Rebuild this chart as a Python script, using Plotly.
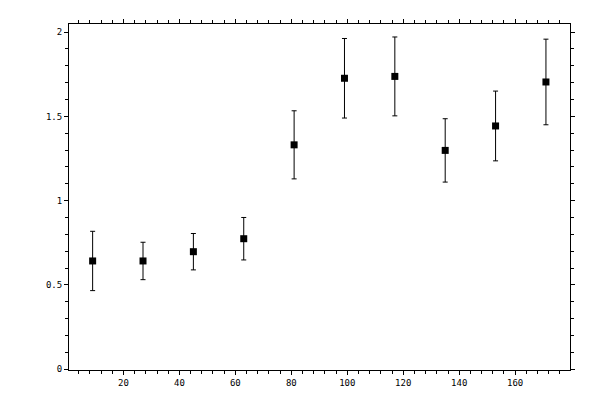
import plotly.graph_objects as go

# bin centres and measured values with symmetric errors
x_vals = [9, 27, 45, 63, 81, 99, 117, 135, 153, 171]
y_vals = [0.642, 0.642, 0.697, 0.774, 1.331, 1.726, 1.737, 1.298, 1.443, 1.704]
y_err = [0.176, 0.111, 0.108, 0.126, 0.202, 0.236, 0.234, 0.188, 0.207, 0.254]

x_range = [0.55, 179.6]
y_range = [-0.005, 2.048]
x_ticks = [20, 40, 60, 80, 100, 120, 140, 160]
y_ticks = [0, 0.5, 1, 1.5, 2]
y_tick_labels = ["0", "0.5", "1", "1.5", "2"]

tick_font = dict(family="DejaVu Sans Mono", size=9, color="black")

fig = go.Figure()

fig.add_trace(go.Scatter(
    x=x_vals, y=y_vals,
    mode="markers",
    marker=dict(symbol="square", size=7, color="black", line=dict(width=0)),
    error_y=dict(type="data", array=y_err, visible=True,
                 color="black", thickness=1, width=2.5),
    showlegend=False,
))

# main axes: outer half of the major ticks, minor ticks, labels
common = dict(
    showline=True, linecolor="black", linewidth=1,
    mirror="ticks", ticks="outside", ticklen=4, tickwidth=1, tickcolor="black",
    showgrid=False, zeroline=False, tickfont=tick_font,
)
fig.update_xaxes(
    range=x_range, tickmode="array", tickvals=x_ticks, **common,
    minor=dict(ticks="outside", ticklen=3, tickwidth=1, tickcolor="black",
               dtick=4, tick0=0, showgrid=False),
)
fig.update_yaxes(
    range=y_range, tickmode="array", tickvals=y_ticks, ticktext=y_tick_labels,
    **common,
    minor=dict(ticks="outside", ticklen=3, tickwidth=1, tickcolor="black",
               dtick=0.1, tick0=0, showgrid=False),
)

# overlay axes: inner half of the major ticks so they cross the frame
inner = dict(
    showline=False, mirror="ticks", ticks="inside", ticklen=4, tickwidth=1,
    tickcolor="black", showgrid=False, zeroline=False, showticklabels=False,
)
fig.update_layout(
    xaxis2=dict(overlaying="x", anchor="y", side="bottom", range=x_range,
                tickmode="array", tickvals=x_ticks, **inner),
    yaxis2=dict(overlaying="y", anchor="x", side="left", range=y_range,
                tickmode="array", tickvals=y_ticks, **inner),
)

# page body adds 8px offset, so margins are shifted to compensate
fig.update_layout(
    width=600, height=400,
    margin=dict(l=61, r=38, t=11, b=38),
    paper_bgcolor="white", plot_bgcolor="white",
    showlegend=False,
)

fig.write_html("out.html")
